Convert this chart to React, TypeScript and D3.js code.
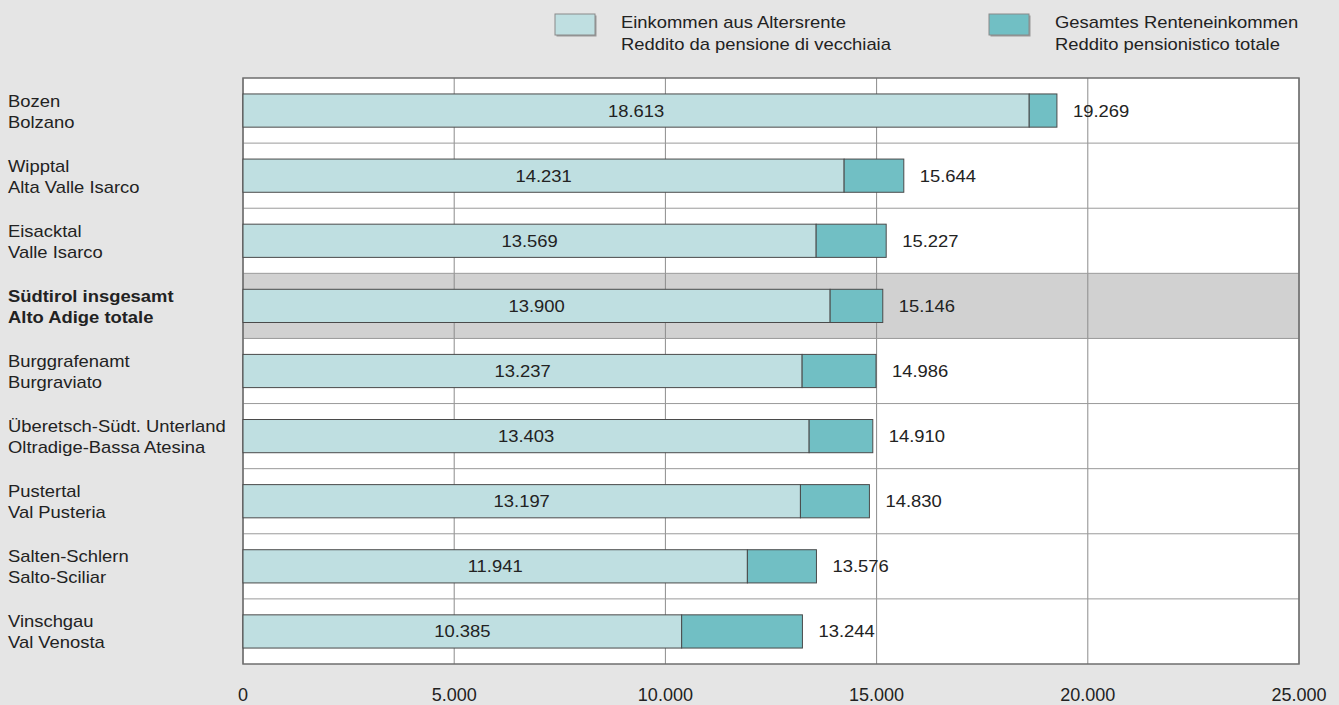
import React from "react";
import * as d3 from "d3";

const regionsDE = [
  "Bozen",
  "Wipptal",
  "Eisacktal",
  "Südtirol insgesamt",
  "Burggrafenamt",
  "Überetsch-Südt. Unterland",
  "Pustertal",
  "Salten-Schlern",
  "Vinschgau",
];
const regionsIT = [
  "Bolzano",
  "Alta Valle Isarco",
  "Valle Isarco",
  "Alto Adige totale",
  "Burgraviato",
  "Oltradige-Bassa Atesina",
  "Val Pusteria",
  "Salto-Sciliar",
  "Val Venosta",
];
const oldAgePension = [18613, 14231, 13569, 13900, 13237, 13403, 13197, 11941, 10385];
const totalPension = [19269, 15644, 15227, 15146, 14986, 14910, 14830, 13576, 13244];
const totalIndex = 3;
const xTicks = [0, 5000, 10000, 15000, 20000, 25000];
const legendLabels = [
  ["Einkommen aus Altersrente", "Reddito da pensione di vecchiaia"],
  ["Gesamtes Renteneinkommen", "Reddito pensionistico totale"],
];

const W = 1339;
const H = 705;
const FONT = "'Liberation Sans', Arial, Helvetica, sans-serif";
const STRETCH = 1.15;
const LIGHT = "#bfdfe1";
const DARK = "#71bfc4";
const BG = "#e5e5e5";

const locale = d3.formatLocale({ decimal: ",", thousands: ".", grouping: [3], currency: ["", "€"] });
const fmt = locale.format(",d");

export default function App() {
  const left = 243, right = 1299, top = 78, bottom = 664;
  const x = d3.scaleLinear().domain([0, 25000]).range([left, right]);
  const rows = d3.scaleBand<number>().domain(d3.range(regionsDE.length)).range([top, bottom]).padding(0);
  const y = d3
    .scaleBand<number>()
    .domain(d3.range(regionsDE.length))
    .range([top, bottom])
    .paddingInner(0.49)
    .paddingOuter(0.245);
  const bw = y.bandwidth();

  const stretchedText = (
    key: string,
    tx: number,
    ty: number,
    txt: string,
    anchor: "start" | "middle" | "end",
    size: number,
    weight: number | string = "normal",
    fill = "#222"
  ) => (
    <text
      key={key}
      transform={`translate(${tx},${ty}) scale(${STRETCH},1)`}
      textAnchor={anchor}
      fontSize={size}
      fontWeight={weight}
      fill={fill}
      fontFamily={FONT}
    >
      {txt}
    </text>
  );

  const legendX = [555, 989];
  const legendColors = [LIGHT, DARK];

  return (
    <svg
      width={W}
      height={H}
      style={{ position: "absolute", left: 0, top: 0, display: "block" }}
    >
      <rect x={0} y={0} width={W} height={H} fill={BG} />

      {/* legend */}
      {legendLabels.map((lines, i) => (
        <g key={"leg" + i}>
          <rect x={legendX[i] + 1.5} y={15.5} width={40} height={21} fill="#9a9a9a" />
          <rect x={legendX[i]} y={14} width={40} height={21} fill={legendColors[i]} stroke="#8a8a8a" strokeWidth={1} />
          {stretchedText("l1" + i, legendX[i] + 66, 28, lines[0], "start", 16)}
          {stretchedText("l2" + i, legendX[i] + 66, 50, lines[1], "start", 16)}
        </g>
      ))}

      {/* plot background */}
      <rect x={left} y={top} width={right - left} height={bottom - top} fill="#ffffff" />
      <rect
        x={left}
        y={rows(totalIndex)!}
        width={right - left}
        height={rows.bandwidth()}
        fill="#d1d1d1"
      />

      {/* grid */}
      {xTicks.map((t) => (
        <line key={"g" + t} x1={x(t)} x2={x(t)} y1={top} y2={bottom} stroke="#8c8c8c" strokeWidth={1} />
      ))}
      {d3.range(1, regionsDE.length).map((i) => (
        <line
          key={"h" + i}
          x1={left}
          x2={right}
          y1={rows(i)!}
          y2={rows(i)!}
          stroke="#9a9a9a"
          strokeWidth={1}
        />
      ))}
      <rect x={left} y={top} width={right - left} height={bottom - top} fill="none" stroke="#6e6e6e" strokeWidth={1.5} />

      {/* bars */}
      {regionsDE.map((_, i) => {
        const yy = y(i)!;
        const cy = yy + bw / 2;
        return (
          <g key={"bar" + i}>
            <rect
              x={x(0)}
              y={yy}
              width={x(oldAgePension[i]) - x(0)}
              height={bw}
              fill={LIGHT}
              stroke="#4a4a4a"
              strokeWidth={1}
            />
            <rect
              x={x(oldAgePension[i])}
              y={yy}
              width={x(totalPension[i]) - x(oldAgePension[i])}
              height={bw}
              fill={DARK}
              stroke="#4a4a4a"
              strokeWidth={1}
            />
            {stretchedText("v" + i, (x(0) + x(oldAgePension[i])) / 2, cy + 6, fmt(oldAgePension[i]), "middle", 16)}
            {stretchedText("t" + i, x(totalPension[i]) + 16, cy + 6, fmt(totalPension[i]), "start", 16)}
          </g>
        );
      })}

      {/* category labels */}
      {regionsDE.map((de, i) => {
        const cy = rows(i)! + rows.bandwidth() / 2;
        const wgt = i === totalIndex ? "bold" : "normal";
        return (
          <g key={"cat" + i}>
            {stretchedText("c1" + i, 8, cy - 4, de, "start", 16, wgt)}
            {stretchedText("c2" + i, 8, cy + 17, regionsIT[i], "start", 16, wgt)}
          </g>
        );
      })}

      {/* x tick labels */}
      {xTicks.map((t) => (
        <text
          key={"xt" + t}
          x={x(t)}
          y={701}
          textAnchor="middle"
          fontSize={18}
          fill="#222"
          fontFamily={FONT}
        >
          {fmt(t)}
        </text>
      ))}
    </svg>
  );
}
